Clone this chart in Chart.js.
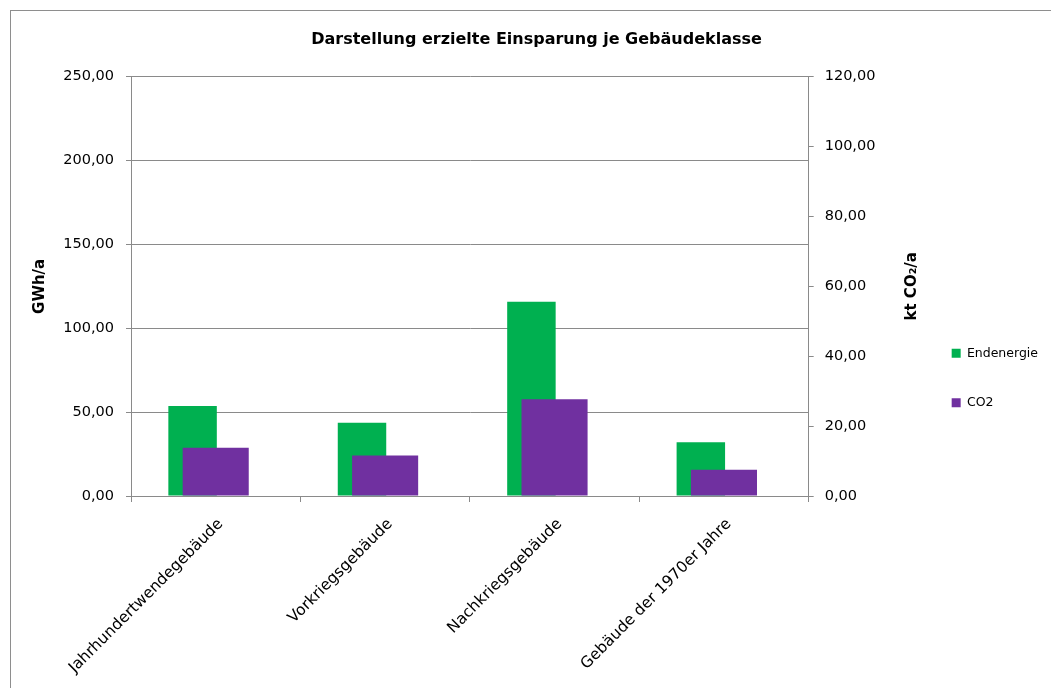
<!DOCTYPE html>
<html lang="de">
<head>
<meta charset="utf-8">
<title>Darstellung erzielte Einsparung je Gebäudeklasse</title>
<script src="https://cdn.jsdelivr.net/npm/chart.js@4/dist/chart.umd.min.js"></script>
<style>
  html, body { margin: 0; padding: 0; background: #fff; overflow: hidden; }
  #frame { position: absolute; left: 10px; top: 10px; width: 1100px; height: 720px; border: 1px solid #8e8e8e; }
  #wrap { position: absolute; left: 0; top: 0; width: 1051px; height: 688px; }
</style>
</head>
<body>
<div id="frame"></div>
<div id="wrap"><canvas id="chart"></canvas></div>
<script>
/* ---- data ---- */
const categories = ['Jahrhundertwendegebäude', 'Vorkriegsgebäude', 'Nachkriegsgebäude', 'Gebäude der 1970er Jahre'];
const endenergie = [53.6, 43.7, 115.8, 32.0];   // GWh/a  (left axis)
const co2 = [13.8, 11.6, 27.7, 7.5];            // kt CO2/a (right axis)
const leftTicks = [0, 50, 100, 150, 200, 250];
const rightTicks = [0, 20, 40, 60, 80, 100, 120];

const GREEN = '#00B050';
const PURPLE = '#7030A0';
const AXIS_GREY = '#8a8a8a';
const FONT = '"DejaVu Sans", sans-serif';

Chart.defaults.font.family = FONT;
Chart.defaults.color = '#000';

// German number format: 250,00
function fmt(v) {
    return Number(v).toFixed(2).replace('.', ',');
}

/* rotated axis titles, both reading bottom-to-top like the original */
const axisTitles = {
    id: 'axisTitles',
    afterDraw(chart) {
        const { ctx, chartArea } = chart;
        const mid = (chartArea.top + chartArea.bottom) / 2;
        const items = [
            [chartArea.left - 91, 'GWh/a'],
            [chartArea.right + 103, 'kt CO\u2082/a']
        ];
        ctx.save();
        ctx.font = 'bold 15px ' + FONT;
        ctx.fillStyle = '#000';
        ctx.textAlign = 'center';
        ctx.textBaseline = 'middle';
        for (const [x, text] of items) {
            ctx.save();
            ctx.translate(x, mid);
            ctx.rotate(-Math.PI / 2);
            ctx.fillText(text, 0, 0);
            ctx.restore();
        }
        ctx.restore();
    }
};

new Chart(document.getElementById('chart'), {
    type: 'bar',
    data: {
        labels: categories,
        datasets: [
            {
                label: 'Endenergie',
                data: endenergie,
                yAxisID: 'y',
                backgroundColor: GREEN,
                grouped: true,
                categoryPercentage: 0.546,
                barPercentage: 1.048,
                order: 1
            },
            {
                // empty slot so the green bar sits left of centre, as in Excel
                label: '',
                data: [],
                yAxisID: 'y',
                grouped: true,
                order: 2
            },
            {
                label: 'CO2',
                data: co2,
                yAxisID: 'y2',
                backgroundColor: PURPLE,
                grouped: false,
                categoryPercentage: 1,
                barPercentage: 0.39,
                order: 0
            }
        ]
    },
    options: {
        responsive: true,
        maintainAspectRatio: false,
        animation: false,
        layout: { padding: { left: 25, right: 3, top: 0, bottom: 9 } },
        plugins: {
            title: {
                display: true,
                text: 'Darstellung erzielte Einsparung je Gebäudeklasse',
                font: { size: 16, weight: 'bold' },
                color: '#000',
                padding: { top: 30, bottom: 27.5 }
            },
            legend: {
                position: 'right',
                // invisible title only pushes the two items down to mid height
                title: { display: true, text: ' ', padding: 31, font: { size: 12.5 } },
                labels: {
                    boxWidth: 9,
                    boxHeight: 9,
                    padding: 37,
                    font: { size: 12.5 },
                    filter: item => item.text !== '',
                    sort: (a, b) => a.datasetIndex - b.datasetIndex
                }
            },
            tooltip: { enabled: false }
        },
        scales: {
            x: {
                grid: {
                    offset: true,
                    drawOnChartArea: false,
                    tickLength: 6,
                    color: AXIS_GREY
                },
                border: { display: true, color: AXIS_GREY },
                ticks: {
                    autoSkip: false,
                    minRotation: 45,
                    maxRotation: 45,
                    padding: 13,
                    labelOffset: 5,
                    font: { size: 15.5 }
                },
                afterFit: s => { s.height = 183; }
            },
            y: {
                position: 'left',
                min: leftTicks[0],
                max: leftTicks[leftTicks.length - 1],
                grid: { color: AXIS_GREY, tickLength: 5 },
                border: { display: true, color: AXIS_GREY },
                ticks: {
                    stepSize: leftTicks[1] - leftTicks[0],
                    padding: 12,
                    font: { size: 14.5 },
                    callback: v => fmt(v)
                },
                afterFit: s => { s.width = 106; }
            },
            y2: {
                position: 'right',
                min: rightTicks[0],
                max: rightTicks[rightTicks.length - 1],
                grid: { drawOnChartArea: false, color: AXIS_GREY, tickLength: 5 },
                border: { display: true, color: AXIS_GREY },
                ticks: {
                    stepSize: rightTicks[1] - rightTicks[0],
                    padding: 11,
                    font: { size: 14.5 },
                    callback: v => fmt(v)
                },
                afterFit: s => { s.width = 106; }
            }
        }
    },
    plugins: [axisTitles]
});
</script>
</body>
</html>
